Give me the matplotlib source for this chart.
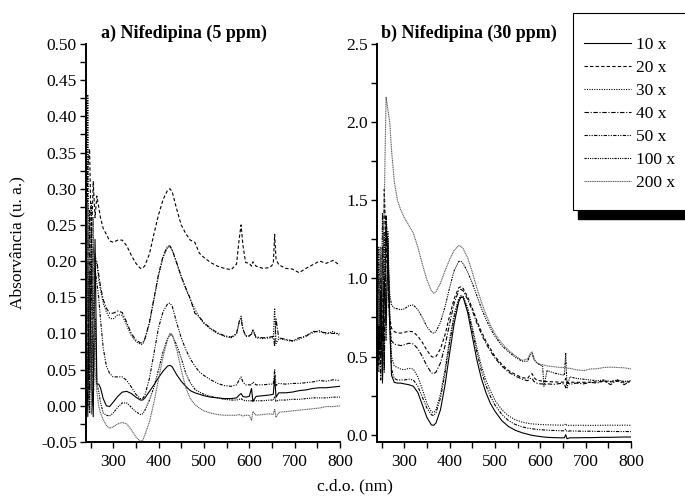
import numpy as np
import matplotlib
matplotlib.use('Agg')
import matplotlib.pyplot as plt
from matplotlib.patches import Rectangle
from matplotlib.ticker import MultipleLocator, FormatStrFormatter

plt.rcParams['font.family'] = ['Liberation Serif', 'DejaVu Serif']

labels = ['10 x', '20 x', '30 x', '40 x', '50 x', '100 x', '200 x']

wl = [242, 244, 248, 252, 256, 260, 264, 268, 272, 278,
      285, 292, 300, 310, 320, 330, 340, 350, 360, 365,
      370, 380, 390, 400, 410, 420, 425, 430, 440, 450,
      460, 470, 480, 490, 500, 515, 530, 545, 560, 572,
      578, 582, 586, 592, 600, 605, 608, 615, 630, 645,
      653, 656, 659, 665, 680, 695, 710, 725, 740, 755,
      770, 785, 800]

# a) Nifedipina (5 ppm)
a_10x = [0.08, -0.015, 0.18, 0.05, -0.015, 0.23, 0.03, 0.03, 0.025, 0.01,
         0.0, -0.001, 0.005, 0.013, 0.019, 0.02, 0.017, 0.012, 0.008, 0.008,
         0.011, 0.02, 0.029, 0.039, 0.048, 0.055, 0.056, 0.054, 0.043, 0.034,
         0.027, 0.021, 0.018, 0.016, 0.014, 0.012, 0.011, 0.01, 0.01, 0.011,
         0.015, 0.017, 0.013, 0.012, 0.013, 0.024, 0.006, 0.013, 0.014, 0.015,
         0.016, 0.04, 0.012, 0.018, 0.018, 0.019, 0.021, 0.022, 0.024, 0.025,
         0.025, 0.026, 0.027]
a_20x = [0.25, 0.33, 0.355, 0.22, 0.31, 0.26, 0.29, 0.275, 0.26, 0.245,
         0.237, 0.228, 0.226, 0.229, 0.229, 0.221, 0.208, 0.197, 0.19, 0.19,
         0.194, 0.21, 0.238, 0.264, 0.285, 0.298, 0.3, 0.296, 0.272, 0.25,
         0.238, 0.229, 0.226, 0.211, 0.205, 0.198, 0.193, 0.19, 0.188, 0.196,
         0.232, 0.25, 0.222, 0.198, 0.197, 0.193, 0.199, 0.193, 0.19, 0.191,
         0.196, 0.237, 0.203, 0.195, 0.19, 0.189, 0.184, 0.19, 0.195, 0.2,
         0.197, 0.201, 0.194]
a_30x = [0.10, 0.43, 0.05, 0.28, 0.12, 0.21, 0.195, 0.175, 0.16, 0.142,
         0.13, 0.121, 0.12, 0.126, 0.125, 0.111, 0.097, 0.089, 0.085, 0.085,
         0.092, 0.114, 0.147, 0.18, 0.205, 0.219, 0.22, 0.215, 0.197, 0.178,
         0.162, 0.147, 0.134, 0.122, 0.114, 0.106, 0.1, 0.096, 0.094, 0.099,
         0.116, 0.124, 0.107, 0.096, 0.096, 0.1, 0.106, 0.094, 0.093, 0.094,
         0.094, 0.135, 0.086, 0.093, 0.091, 0.089, 0.092, 0.097, 0.101, 0.104,
         0.099, 0.103, 0.097]
a_40x = [0.15, 0.0, 0.27, 0.02, 0.22, 0.20, 0.2, 0.182, 0.165, 0.147,
         0.135, 0.128, 0.128, 0.131, 0.129, 0.115, 0.1, 0.091, 0.087, 0.087,
         0.093, 0.116, 0.149, 0.182, 0.207, 0.221, 0.221, 0.216, 0.198, 0.179,
         0.163, 0.148, 0.128, 0.123, 0.115, 0.107, 0.101, 0.097, 0.095, 0.1,
         0.117, 0.12, 0.106, 0.097, 0.097, 0.099, 0.103, 0.095, 0.094, 0.095,
         0.096, 0.082, 0.12, 0.094, 0.092, 0.09, 0.094, 0.096, 0.103, 0.102,
         0.101, 0.1, 0.1]
a_50x = [0.05, 0.25, 0.02, 0.2, 0.03, 0.19, 0.17, 0.15, 0.12, 0.08,
         0.055, 0.045, 0.04, 0.04, 0.04, 0.035, 0.026, 0.016, 0.01, 0.01,
         0.015, 0.038, 0.073, 0.108, 0.13, 0.141, 0.142, 0.138, 0.115, 0.094,
         0.078, 0.065, 0.055, 0.047, 0.042, 0.036, 0.031, 0.028, 0.027, 0.029,
         0.036, 0.04, 0.033, 0.029, 0.029, 0.029, 0.033, 0.029, 0.029, 0.03,
         0.03, 0.05, 0.028, 0.031, 0.03, 0.031, 0.031, 0.032, 0.033, 0.035,
         0.034, 0.036, 0.035]
a_100x = [0.12, 0.2, -0.01, 0.24, 0.0, 0.12, 0.03, 0.02, 0.005, -0.01,
          -0.013, -0.014, -0.01, -0.002, 0.004, 0.004, -0.002, -0.008, -0.012, -0.011,
          -0.006, 0.008, 0.026, 0.05, 0.075, 0.093, 0.098, 0.098, 0.084, 0.066,
          0.045, 0.032, 0.023, 0.019, 0.016, 0.013, 0.011, 0.009, 0.008, 0.008,
          0.009, 0.01, 0.008, 0.007, 0.007, 0.007, 0.007, 0.007, 0.007, 0.008,
          0.008, 0.013, 0.006, 0.008, 0.008, 0.009, 0.009, 0.01, 0.011, 0.011,
          0.011, 0.012, 0.012]
a_200x = [0.02, 0.28, 0.1, -0.012, 0.26, 0.05, 0.02, 0.0, -0.01, -0.019,
          -0.027, -0.031, -0.029, -0.025, -0.023, -0.025, -0.033, -0.043, -0.049, -0.048,
          -0.04, -0.022, 0.005, 0.037, 0.068, 0.092, 0.1, 0.099, 0.078, 0.05,
          0.025, 0.01, 0.002, -0.003, -0.007, -0.01, -0.012, -0.013, -0.013, -0.013,
          -0.012, -0.013, -0.014, -0.013, -0.013, -0.02, -0.008, -0.013, -0.012, -0.011,
          -0.012, -0.004, -0.016, -0.009, -0.008, -0.007, -0.006, -0.005, -0.004, -0.003,
          -0.001, -0.001, 0.0]

# b) Nifedipina (30 ppm)
b_10x = [0.8, 0.5, 0.9, 0.33, 1.0, 0.7, 1.25, 0.7, 0.38, 0.335,
         0.33, 0.33, 0.325, 0.32, 0.31, 0.27, 0.19, 0.11, 0.062, 0.06,
         0.075, 0.16, 0.32, 0.52, 0.71, 0.85, 0.88, 0.88, 0.78, 0.63,
         0.48, 0.36, 0.27, 0.2, 0.15, 0.09, 0.052, 0.028, 0.012, 0.003,
         -0.002, -0.004, -0.006, -0.009, -0.012, -0.014, -0.015, -0.017, -0.019, -0.02,
         -0.02, 0.0, -0.026, -0.02, -0.02, -0.019, -0.019, -0.018, -0.017, -0.017,
         -0.016, -0.015, -0.015]
b_20x = [1.1, 0.45, 1.0, 0.6, 1.57, 1.2, 1.0, 0.75, 0.68, 0.66,
         0.65, 0.65, 0.655, 0.662, 0.658, 0.63, 0.59, 0.54, 0.5, 0.495,
         0.5, 0.55, 0.64, 0.76, 0.87, 0.94, 0.948, 0.935, 0.88, 0.81,
         0.73, 0.66, 0.6, 0.55, 0.5, 0.45, 0.41, 0.385, 0.365, 0.36,
         0.385, 0.39, 0.365, 0.35, 0.345, 0.342, 0.34, 0.34, 0.338, 0.336,
         0.336, 0.36, 0.33, 0.336, 0.335, 0.335, 0.336, 0.338, 0.34, 0.338,
         0.342, 0.335, 0.34]
b_30x = [0.9, 0.4, 1.15, 0.35, 1.3, 0.6, 1.3, 0.8, 0.5, 0.44,
         0.43, 0.42, 0.415, 0.425, 0.42, 0.37, 0.29, 0.2, 0.146, 0.142,
         0.16, 0.26, 0.42, 0.61, 0.77, 0.87, 0.89, 0.885, 0.81, 0.69,
         0.56, 0.44, 0.35, 0.28, 0.22, 0.16, 0.12, 0.095, 0.08, 0.073,
         0.07, 0.07, 0.068, 0.067, 0.065, 0.064, 0.064, 0.063, 0.062, 0.061,
         0.061, 0.07, 0.058, 0.06, 0.06, 0.06, 0.059, 0.06, 0.06, 0.061,
         0.06, 0.061, 0.06]
b_40x = [0.5, 1.0, 0.35, 1.2, 0.45, 1.4, 1.0, 0.7, 0.6, 0.58,
         0.575, 0.57, 0.575, 0.585, 0.58, 0.55, 0.5, 0.44, 0.395, 0.39,
         0.4, 0.46, 0.57, 0.71, 0.84, 0.92, 0.93, 0.92, 0.865, 0.795,
         0.715, 0.645, 0.585, 0.535, 0.49, 0.44, 0.4, 0.375, 0.355, 0.345,
         0.36, 0.36, 0.34, 0.33, 0.325, 0.325, 0.32, 0.325, 0.322, 0.328,
         0.325, 0.3, 0.34, 0.322, 0.33, 0.325, 0.335, 0.33, 0.345, 0.32,
         0.35, 0.32, 0.345]
b_50x = [0.45, 0.85, 0.5, 1.1, 0.4, 1.4, 1.2, 0.7, 0.42, 0.36,
         0.35, 0.35, 0.35, 0.355, 0.35, 0.31, 0.24, 0.17, 0.127, 0.122,
         0.14, 0.235, 0.395, 0.585, 0.75, 0.86, 0.88, 0.876, 0.8, 0.67,
         0.53, 0.41, 0.315, 0.245, 0.19, 0.13, 0.09, 0.065, 0.05, 0.042,
         0.04, 0.038, 0.036, 0.034, 0.032, 0.031, 0.03, 0.029, 0.027, 0.025,
         0.025, 0.035, 0.02, 0.024, 0.023, 0.022, 0.022, 0.021, 0.021, 0.021,
         0.02, 0.02, 0.02]
b_100x = [0.6, 1.2, 0.5, 1.42, 0.9, 1.3, 1.1, 0.9, 0.83, 0.81,
          0.805, 0.8, 0.805, 0.825, 0.83, 0.8, 0.75, 0.69, 0.655, 0.65,
          0.66, 0.72, 0.82, 0.94, 1.05, 1.108, 1.11, 1.095, 1.04, 0.97,
          0.89, 0.81, 0.74, 0.68, 0.63, 0.57, 0.53, 0.495, 0.47, 0.47,
          0.51, 0.52, 0.48, 0.46, 0.445, 0.44, 0.31, 0.41, 0.395, 0.385,
          0.38, 0.52, 0.3, 0.37, 0.36, 0.355, 0.35, 0.345, 0.35, 0.34,
          0.35, 0.34, 0.345]
b_200x = [1.0, 0.7, 1.2, 0.9, 1.5, 2.16, 2.08, 2.0, 1.82, 1.62,
          1.5, 1.44, 1.39, 1.34, 1.29, 1.2, 1.09, 0.99, 0.92, 0.905,
          0.915, 0.97, 1.05, 1.12, 1.18, 1.21, 1.205, 1.19, 1.13, 1.04,
          0.94, 0.85, 0.77, 0.7, 0.645, 0.585, 0.54, 0.505, 0.475, 0.485,
          0.52, 0.53, 0.49, 0.46, 0.45, 0.448, 0.445, 0.44, 0.435, 0.43,
          0.43, 0.43, 0.425, 0.425, 0.415, 0.41, 0.42, 0.422, 0.43, 0.432,
          0.43, 0.428, 0.42]

series_a = [a_10x, a_20x, a_30x, a_40x, a_50x, a_100x, a_200x]
series_b = [b_10x, b_20x, b_30x, b_40x, b_50x, b_100x, b_200x]

styles = ['-', (0, (3, 2)), (0, (1, 1.2)), (0, (4, 1.5, 1, 1.5)),
          (0, (3, 1.2, 1, 1.2, 1, 1.2)), (0, (2, 1, 1, 1, 1, 1, 1, 1)), (0, (1, 0.6))]
colors = ['k', 'k', 'k', 'k', 'k', 'k', '0.35']

fig = plt.figure(figsize=(6.85, 4.99), dpi=100)
ax1 = fig.add_axes([0.1255, 0.1142, 0.3708, 0.7976])
ax2 = fig.add_axes([0.5504, 0.1142, 0.3708, 0.7976])

lines = []
for ys, ls, c in zip(series_a, styles, colors):
    ln, = ax1.plot(wl, ys, ls=ls, color=c, lw=0.8)
    lines.append(ln)
for ys, ls, c in zip(series_b, styles, colors):
    ax2.plot(wl, ys, ls=ls, color=c, lw=0.8)

ax1.set_xlim(240, 800)
ax1.set_ylim(-0.05, 0.50)
ax2.set_xlim(240, 800)
ax2.set_ylim(-0.047, 2.5)

ax1.yaxis.set_major_locator(MultipleLocator(0.05))
ax1.yaxis.set_minor_locator(MultipleLocator(0.025))
ax1.yaxis.set_major_formatter(FormatStrFormatter('%.2f'))
ax2.yaxis.set_major_locator(MultipleLocator(0.5))
ax2.yaxis.set_minor_locator(MultipleLocator(0.25))
ax2.yaxis.set_major_formatter(FormatStrFormatter('%.1f'))

for ax in (ax1, ax2):
    ax.xaxis.set_major_locator(MultipleLocator(100))
    ax.xaxis.set_minor_locator(MultipleLocator(50))
    ax.spines['top'].set_visible(False)
    ax.spines['right'].set_visible(False)
    ax.spines['left'].set_linewidth(1.4)
    ax.spines['bottom'].set_linewidth(1.4)
    ax.tick_params(which='both', direction='out', length=4.5, width=1.0,
                   labelsize=12.5, pad=2)
    ax.tick_params(axis='x', which='both', pad=4)

fig.text(101/685, 1 - 33/499, 'a) Nifedipina (5 ppm)', fontsize=13,
         fontweight='bold', ha='left', va='center')
fig.text(381/685, 1 - 33/499, 'b) Nifedipina (30 ppm)', fontsize=13,
         fontweight='bold', ha='left', va='center')
fig.text(17/685, 1 - 243/499, 'Absorvância (u. a.)', fontsize=12.5,
         rotation=90, ha='center', va='center')
fig.text(355/685, 1 - 486/499, 'c.d.o. (nm)', fontsize=12.5,
         ha='center', va='center')

# legend box with black shadow
fig.add_artist(Rectangle((578/685, 1 - 219/499), 0.2, 201/499,
                         transform=fig.transFigure, facecolor='k',
                         edgecolor='k', zorder=3))
fig.add_artist(Rectangle((573/685, 1 - 210/499), 0.2, 197/499,
                         transform=fig.transFigure, facecolor='white',
                         edgecolor='k', lw=0.8, zorder=4))
fig.legend(lines, labels, loc='upper left',
           bbox_to_anchor=(584/685, 1 - 37/499), frameon=False,
           fontsize=12.5, handlelength=2.7, handletextpad=0.3,
           labelspacing=0.39, borderpad=0, borderaxespad=0)

fig.savefig('out.png', dpi=100)
